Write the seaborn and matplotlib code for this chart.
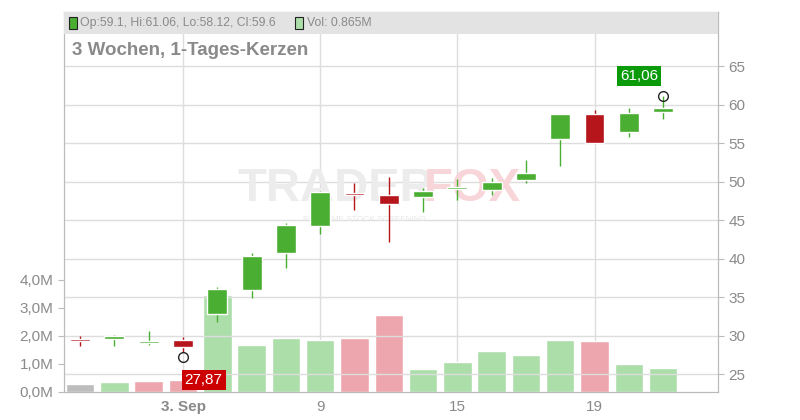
import matplotlib
matplotlib.use("Agg")
import matplotlib.pyplot as plt
import seaborn as sns
import numpy as np
import pandas as pd

sns.set_style("white")
plt.rcParams['font.family'] = ['Liberation Sans', 'DejaVu Sans']

opens  = [29.6, 29.5, 29.0, 29.4, 32.8, 35.9, 40.7, 44.2, 48.5, 48.2, 48.0, 49.0, 48.9, 50.2, 55.5, 58.8, 56.4, 59.1]
highs  = [30.0, 30.1, 30.6, 29.8, 36.3, 40.7, 44.6, 48.8, 49.8, 50.6, 49.2, 50.3, 50.5, 52.8, 58.8, 59.3, 59.5, 61.06]
lows   = [28.7, 28.6, 28.8, 27.87, 31.8, 34.9, 38.8, 43.2, 46.3, 42.1, 46.0, 47.6, 48.3, 49.8, 52.0, 55.0, 55.8, 58.12]
closes = [29.3, 29.9, 29.2, 28.5, 36.0, 40.3, 44.4, 48.6, 48.3, 47.1, 48.8, 49.1, 49.9, 51.1, 58.8, 55.0, 58.9, 59.6]
volumes = [0.29, 0.36, 0.40, 0.43, 3.46, 1.68, 1.93, 1.86, 1.93, 2.75, 0.82, 1.07, 1.46, 1.32, 1.86, 1.82, 1.00, 0.865]
vol_kind = ['n', 'u', 'd', 'd', 'u', 'u', 'u', 'u', 'd', 'd', 'u', 'u', 'u', 'u', 'u', 'd', 'u', 'u']
xtick_pos = [3, 7, 11, 15]
xtick_labels = ['3. Sep', '9', '15', '19']
price_ticks = [25, 30, 35, 40, 45, 50, 55, 60, 65]
vol_ticks = [0, 1, 2, 3, 4]

GREEN, RED = '#4aae33', '#b5151b'
VCOL = {'u': '#acdeaa', 'd': '#eda6ad', 'n': '#bdbdbd'}
TXT = '#8a8a8a'

fig = plt.figure(figsize=(8, 4.2), dpi=100)
ax = fig.add_axes([0.08, 0.0667, 0.8175, 0.9043])
idx = np.arange(len(opens))
df = pd.DataFrame({'i': idx, 'v': volumes, 'k': [str(i) for i in idx]})
sns.barplot(data=df, x='i', y='v', hue='k', palette=[VCOL[k] for k in vol_kind],
            legend=False, native_scale=True, width=0.83, ax=ax, saturation=1, zorder=2)
ax.set_xlim(-0.47, 18.6)
ax.set_ylim(0, 13.55)
ax.set_yticks(vol_ticks)
ax.set_yticklabels([f"{v},0M" for v in vol_ticks])
ax.set_xticks(xtick_pos)
ax.set_xticklabels(xtick_labels)
ax.set_xlabel(''); ax.set_ylabel('')
for t in ax.get_xticklabels():
    t.set_fontweight('bold' if t.get_text() == '3. Sep' else 'normal')
ax.tick_params(axis='both', colors=TXT, labelsize=11, length=4, color='#bbbbbb')
ax.tick_params(axis='x', length=0, pad=6)
for x in xtick_pos:
    ax.axvline(x, color='#dddddd', lw=1, zorder=0)
for s in ax.spines.values():
    s.set_color('#bbbbbb')

ax2 = ax.twinx()
ax2.set_ylim(22.67, 72.0)
ax2.set_yticks(price_ticks)
ax2.tick_params(axis='y', colors=TXT, labelsize=11, length=4, color='#bbbbbb')
for p in price_ticks:
    ax2.axhline(p, color='#dddddd', lw=1, zorder=0)
for s in ax2.spines.values():
    s.set_color('#bbbbbb')

ax2.text(0.415, 0.535, 'TRADER', transform=ax2.transAxes, ha='center', va='center',
         fontsize=34, fontweight='bold', color='#ececec', zorder=1)
ax2.text(0.625, 0.535, 'FOX', transform=ax2.transAxes, ha='center', va='center',
         fontsize=34, fontweight='bold', color='#f8d5d8', zorder=1)
ax2.text(0.46, 0.455, 'REALTIME STOCK SCREENING', transform=ax2.transAxes, ha='center',
         va='center', fontsize=6, color='#e8e8e8', zorder=1)

for i, (o, h, l, c) in enumerate(zip(opens, highs, lows, closes)):
    col = GREEN if c >= o else RED
    ax2.vlines(i, l, h, color=col, lw=1, zorder=3)
    bot, top = min(o, c), max(o, c)
    ax2.bar(i, max(top - bot, 0.25), bottom=bot, width=0.58, color=col, zorder=4)

hi_i = int(np.argmax(highs)); lo_i = int(np.argmin(lows))
ax2.plot(hi_i, highs[hi_i], marker='o', mfc='none', mec='#222222', ms=7, zorder=5)
ax2.plot(lo_i, lows[lo_i] - 0.7, marker='o', mfc='none', mec='#222222', ms=7, zorder=5)
ax2.text(hi_i - 0.7, highs[hi_i] + 2.7, f"{highs[hi_i]:.2f}".replace('.', ','), color='white',
         fontsize=11, ha='center', va='center', zorder=6,
         bbox=dict(boxstyle='square,pad=0.2', fc='#0a9a0a', ec='none'))
ax2.text(lo_i + 0.6, lows[lo_i] - 3.6, f"{lows[lo_i]:.2f}".replace('.', ','), color='white',
         fontsize=11, ha='center', va='center', zorder=6,
         bbox=dict(boxstyle='square,pad=0.2', fc='#cc0000', ec='none'))

from matplotlib.patches import Rectangle
ax2.add_patch(Rectangle((0, 0.943), 1, 0.057, transform=ax2.transAxes, fc='#e3e3e3', ec='none', zorder=7))
ax2.add_patch(Rectangle((0.008, 0.955), 0.012, 0.033, transform=ax2.transAxes, fc=GREEN, ec='#222222', lw=0.8, zorder=8))
ax2.text(0.025, 0.971, f"Op:{opens[-1]}, Hi:{highs[-1]}, Lo:{lows[-1]}, Cl:{closes[-1]}",
         transform=ax2.transAxes, color=TXT, fontsize=8.8, va='center', zorder=8)
ax2.add_patch(Rectangle((0.353, 0.955), 0.012, 0.033, transform=ax2.transAxes, fc=VCOL['u'], ec='#222222', lw=0.8, zorder=8))
ax2.text(0.371, 0.971, f"Vol: {volumes[-1]}M", transform=ax2.transAxes, color=TXT, fontsize=8.8, va='center', zorder=8)
ax2.text(0.012, 0.9, '3 Wochen, 1-Tages-Kerzen', transform=ax2.transAxes, color=TXT,
         fontsize=13.5, fontweight='bold', va='center', zorder=8)

fig.savefig('out.png', dpi=100)
